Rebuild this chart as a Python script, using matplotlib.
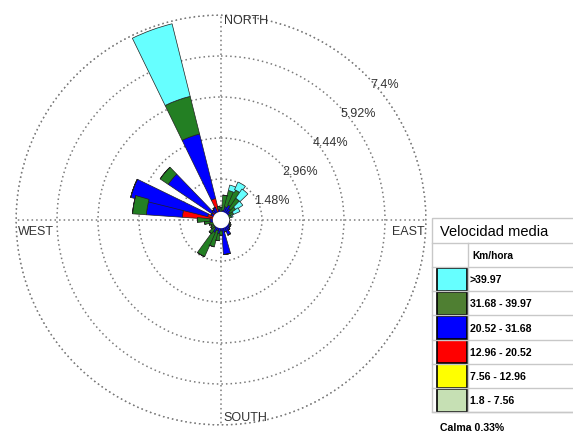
import numpy as np
import matplotlib.pyplot as plt
from matplotlib.patches import Rectangle

plt.rcParams['font.family'] = ['Liberation Sans', 'DejaVu Sans']

# wind directions (deg, from north, clockwise)
directions = np.arange(0, 360, 10)

# frequency (%) of each speed class per direction
f_1_8 = [.10] * 36
f_7_56 = [.05, .04, .04, .04, .04, .04, .04, .04, .05, .05, .05, .05,
          .05, .05, .05, .05, .05, .05, .05, .05, .05, .05, .05, .05,
          .05, .05, .05, .05, .10, .10, .05, .10, .05, .05, .10, .05]
f_12_96 = [.05, .06, .06, .06, .06, .06, .04, .04, .05, .05, .05, .05,
           .05, .05, .10, .10, .05, .10, .05, .10, .05, .05, .05, .05,
           .05, .05, .10, .15, 1.20, .30, .15, .20, .15, .15, .60, .10]
f_20_52 = [.10, .15, .30, .40, .30, .20, .12, .07, .05, .05, .10, .10,
           .15, .20, .20, .35, .25, 1.00, .20, .25, .20, .30, .15, .10,
           .10, .10, .15, .10, 1.30, 2.86, .10, 1.90, .15, .20, 2.40, .15]
f_31_68 = [.15, .55, .60, .60, .45, .25, .20, .15, .05, 0, 0, .05,
           .05, 0, 0, 0, 0, 0, .15, .25, .60, .95, .25, .15,
           .10, .15, .20, .45, .50, 0, 0, .35, 0, 0, 1.40, .10]
f_39_97 = [0, 0, .20, .30, .40, .30, .25, .05, 0, 0, 0, 0,
           0, 0, 0, 0, 0, 0, 0, 0, 0, 0, 0, 0,
           0, 0, 0, 0, 0, 0, 0, 0, 0, 0, 2.70, 0]

classes = [f_1_8, f_7_56, f_12_96, f_20_52, f_31_68, f_39_97]
class_labels = ['1.8 - 7.56', '7.56 - 12.96', '12.96 - 20.52',
                '20.52 - 31.68', '31.68 - 39.97', '>39.97']
bar_colors = ['#c6e0b4', '#ffff00', '#ff0000', '#0000ff', '#237f23', '#66ffff']
legend_colors = ['#c6e0b4', '#ffff00', '#ff0000', '#0000ff', '#4f7f32', '#66ffff']

rings = [1.48, 2.96, 4.44, 5.92, 7.4]
calm = 0.33

W, H = 573, 434
fig = plt.figure(figsize=(W / 100, H / 100), dpi=100)

cx, cy, R = 221, 220, 205
ax = fig.add_axes([(cx - R) / W, (H - cy - R) / H, 2 * R / W, 2 * R / H],
                  projection='polar')
ax.set_theta_zero_location('N')
ax.set_theta_direction(-1)

theta = np.deg2rad(directions)
width = np.deg2rad(12)
bottom = np.zeros(len(directions))
for vals, col in zip(classes, bar_colors):
    vals = np.array(vals)
    ax.bar(theta, vals, width=width, bottom=bottom, color=col,
           edgecolor='#202020', linewidth=0.5, zorder=3)
    bottom += vals

# calm circle in the middle
tt = np.linspace(0, 2 * np.pi, 100)
ax.fill(tt, np.full_like(tt, 0.27), color='white', zorder=4)

ax.set_rlim(0, rings[-1])
ax.set_rticks(rings)
ax.set_yticklabels([])
ax.set_xticks(np.deg2rad([0, 90, 180, 270]))
ax.set_xticklabels([])
ax.grid(color='#7a7a7a', linestyle=(0, (1, 2)), linewidth=1.1)
ax.plot(tt, np.full_like(tt, rings[-1]), color='#7a7a7a',
        linestyle=(0, (1, 2)), linewidth=1.1, clip_on=False)
ax.spines['polar'].set_visible(False)
ax.set_facecolor('none')


def ftxt(x, y, s, **kw):
    fig.text(x / W, 1 - y / H, s, **kw)


ftxt(246, 21, 'NORTH', fontsize=9, ha='center', va='center', color='#333333')
ftxt(36, 232, 'WEST', fontsize=9, ha='center', va='center', color='#333333')
ftxt(408, 232, 'EAST', fontsize=9, ha='center', va='center', color='#333333')
ftxt(245, 418, 'SOUTH', fontsize=9, ha='center', va='center', color='#333333')

ring_pos = [(272, 201), (300, 172), (330, 143), (358, 114), (385, 85)]
for r, (x, y) in zip(rings, ring_pos):
    lab = ('%.2f' % r).rstrip('0') + '%'
    ftxt(x, y, lab, fontsize=9, ha='center', va='center', color='#333333')

# legend table
lg = fig.add_axes([0, 0, 1, 1])
lg.set_xlim(0, W)
lg.set_ylim(H, 0)
lg.axis('off')
line_c = '#c8c8c8'
lg.add_patch(Rectangle((432, 218), 160, 194, fill=False, edgecolor=line_c, lw=1))
lg.plot([432, 573], [243, 243], color=line_c, lw=1)
lg.plot([468, 468], [243, 412], color=line_c, lw=1)
lg.text(440, 232, 'Velocidad media', fontsize=10.5, va='center', ha='left')
lg.text(472, 256, 'Km/hora', fontsize=7.3, fontweight='bold', va='center')
row_top = 267
row_h = 24.2
for i, (lab, col) in enumerate(zip(class_labels[::-1], legend_colors[::-1])):
    y0 = row_top + i * row_h
    lg.plot([432, 573], [y0, y0], color=line_c, lw=1)
    lg.add_patch(Rectangle((437, y0 + 0.5), 30, row_h - 1, facecolor=col,
                           edgecolor='black', lw=1.2))
    lg.text(470, y0 + row_h / 2 + 1, lab, fontsize=7.6, fontweight='bold',
            va='center', ha='left')
lg.plot([432, 573], [412, 412], color=line_c, lw=1)
lg.text(440, 428, 'Calma %.2f%%' % calm, fontsize=7.6, fontweight='bold',
        va='center', ha='left')

fig.savefig('out.png', dpi=100)
